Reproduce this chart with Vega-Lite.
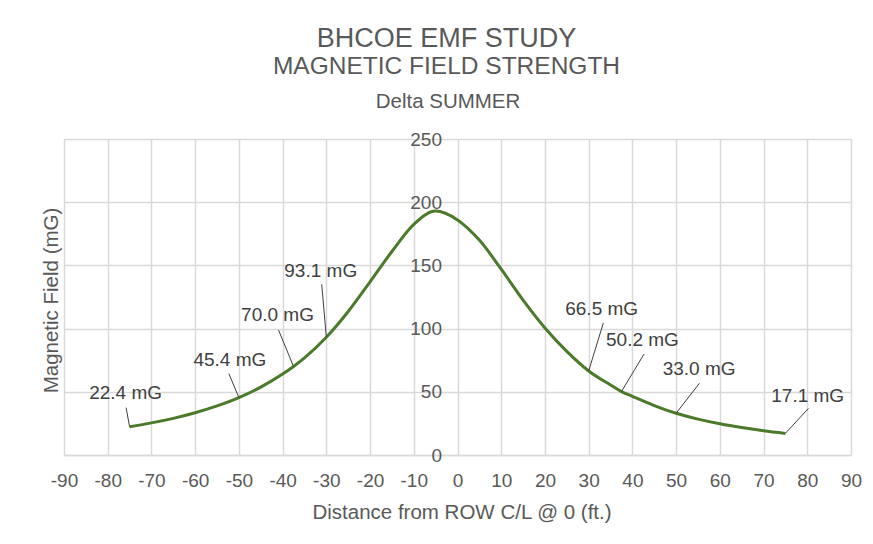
{
  "$schema": "https://vega.github.io/schema/vega-lite/v6.json",
  "width": 787,
  "height": 316,
  "autosize": {"type": "none"},
  "padding": {"left": 64, "top": 139, "right": 22, "bottom": 89},
  "background": "white",
  "config": {"view": {"stroke": null}, "font": "Liberation Sans"},
  "title": {
    "text": "BHCOE EMF STUDY",
    "subtitle": "MAGNETIC FIELD STRENGTH",
    "anchor": "middle",
    "frame": "group",
    "dx": -11,
    "offset": 12,
    "font": "Liberation Sans",
    "fontSize": 27,
    "fontWeight": "normal",
    "color": "#595959",
    "subtitleFont": "Liberation Sans",
    "subtitleFontSize": 24.5,
    "subtitleColor": "#595959",
    "subtitlePadding": 1.5
  },
  "datasets": {
    "curve": [
      {"x": -75, "y": 22.4}, {"x": -70, "y": 25.4}, {"x": -65, "y": 29.0}, {"x": -60, "y": 33.4},
      {"x": -55, "y": 38.8}, {"x": -50, "y": 45.4}, {"x": -45, "y": 53.7}, {"x": -40, "y": 64.0},
      {"x": -37.5, "y": 70.0}, {"x": -35, "y": 76.8}, {"x": -30, "y": 93.1}, {"x": -25, "y": 113.5},
      {"x": -20, "y": 137}, {"x": -15, "y": 161}, {"x": -10, "y": 182.5}, {"x": -5, "y": 193},
      {"x": 0, "y": 186}, {"x": 5, "y": 170}, {"x": 10, "y": 147}, {"x": 15, "y": 122.5},
      {"x": 20, "y": 100.5}, {"x": 25, "y": 82}, {"x": 30, "y": 66.5}, {"x": 35, "y": 55.4},
      {"x": 37.5, "y": 50.2}, {"x": 40, "y": 46.4}, {"x": 45, "y": 39.1}, {"x": 50, "y": 33.0},
      {"x": 55, "y": 28.4}, {"x": 60, "y": 24.7}, {"x": 65, "y": 21.7}, {"x": 70, "y": 19.2},
      {"x": 75, "y": 17.1}
    ],
    "labels": [
      {"x": -75, "y": 22.4, "label": "22.4 mG"},
      {"x": -50, "y": 45.4, "label": "45.4 mG"},
      {"x": -37.5, "y": 70.0, "label": "70.0 mG"},
      {"x": -30, "y": 93.1, "label": "93.1 mG"},
      {"x": 30, "y": 66.5, "label": "66.5 mG"},
      {"x": 37.5, "y": 50.2, "label": "50.2 mG"},
      {"x": 50, "y": 33.0, "label": "33.0 mG"},
      {"x": 75, "y": 17.1, "label": "17.1 mG"}
    ]
  },
  "layer": [
    {
      "data": {"name": "curve"},
      "mark": {"type": "line", "interpolate": "monotone", "color": "#4a7a2a", "strokeWidth": 3},
      "encoding": {
        "x": {
          "field": "x", "type": "quantitative",
          "scale": {"domain": [-90, 90], "nice": false},
          "axis": {
            "orient": "bottom",
            "values": [-90, -80, -70, -60, -50, -40, -30, -20, -10, 0, 10, 20, 30, 40, 50, 60, 70, 80, 90],
            "labelExpr": "'' + datum.value",
            "grid": true, "gridColor": "#d9d9d9", "gridWidth": 1.5,
            "domain": true, "domainColor": "#d9d9d9", "domainWidth": 1.5,
            "ticks": false, "tickSize": 0,
            "labelPadding": 16, "labelFontSize": 19, "labelColor": "#595959",
            "labelFlush": false, "labelOverlap": false,
            "title": "Distance from ROW C/L @ 0 (ft.)",
            "titleFontSize": 20.5, "titleFontWeight": "normal", "titleColor": "#595959",
            "titleX": 397.5, "titleY": 63, "titleBaseline": "alphabetic", "titleAlign": "center"
          }
        },
        "y": {
          "field": "y", "type": "quantitative",
          "scale": {"domain": [0, 250], "nice": false},
          "axis": {
            "orient": "left",
            "values": [0, 50, 100, 150, 200, 250],
            "grid": true, "gridColor": "#d9d9d9", "gridWidth": 1.5,
            "labels": false, "ticks": false, "domain": false, "title": null
          }
        }
      }
    },
    {
      "data": {"name": "labels"},
      "mark": {"type": "point", "opacity": 0},
      "encoding": {
        "x": {
          "field": "x", "type": "quantitative",
          "scale": {"domain": [-90, 90], "nice": false},
          "axis": {
            "orient": "top", "labels": false, "ticks": false, "domain": false, "grid": false,
            "title": "Delta SUMMER",
            "titleFontSize": 20.5, "titleFontWeight": "normal", "titleColor": "#595959",
            "titleX": 383.5, "titleY": -32, "titleBaseline": "alphabetic", "titleAlign": "center"
          }
        },
        "y": {
          "field": "y", "type": "quantitative",
          "scale": {"domain": [0, 250], "nice": false},
          "axis": {
            "orient": "left", "offset": -393.5,
            "values": [0, 50, 100, 150, 200, 250],
            "grid": false, "domain": false, "ticks": false, "tickSize": 0,
            "labelPadding": 16, "labelFontSize": 19, "labelColor": "#595959",
            "title": "Magnetic Field (mG)",
            "titleFontSize": 20.5, "titleFontWeight": "normal", "titleColor": "#595959",
            "titleX": -406.5, "titleY": 161, "titleAngle": -90,
            "titleAlign": "center", "titleBaseline": "middle"
          }
        }
      }
    },
    {
      "data": {"name": "labels"},
      "transform": [{"filter": "datum.x == -75"}],
      "layer": [
        {"mark": {"type": "rule", "color": "#404040", "strokeWidth": 1, "x2Offset": -3.5, "y2Offset": -19},
         "encoding": {"x": {"field": "x", "type": "quantitative", "axis": null}, "y": {"field": "y", "type": "quantitative", "axis": null}, "x2": {"field": "x"}, "y2": {"field": "y"}}},
        {"mark": {"type": "text", "dx": -4, "dy": -34, "fontSize": 19, "color": "#404040"},
         "encoding": {"x": {"field": "x", "type": "quantitative", "axis": null}, "y": {"field": "y", "type": "quantitative", "axis": null}, "text": {"field": "label"}}}
      ]
    },
    {
      "data": {"name": "labels"},
      "transform": [{"filter": "datum.x == -50"}],
      "layer": [
        {"mark": {"type": "rule", "color": "#404040", "strokeWidth": 1, "x2Offset": -10, "y2Offset": -24},
         "encoding": {"x": {"field": "x", "type": "quantitative", "axis": null}, "y": {"field": "y", "type": "quantitative", "axis": null}, "x2": {"field": "x"}, "y2": {"field": "y"}}},
        {"mark": {"type": "text", "dx": -9, "dy": -38, "fontSize": 19, "color": "#404040"},
         "encoding": {"x": {"field": "x", "type": "quantitative", "axis": null}, "y": {"field": "y", "type": "quantitative", "axis": null}, "text": {"field": "label"}}}
      ]
    },
    {
      "data": {"name": "labels"},
      "transform": [{"filter": "datum.x == -37.5"}],
      "layer": [
        {"mark": {"type": "rule", "color": "#404040", "strokeWidth": 1, "x2Offset": -15, "y2Offset": -36.5},
         "encoding": {"x": {"field": "x", "type": "quantitative", "axis": null}, "y": {"field": "y", "type": "quantitative", "axis": null}, "x2": {"field": "x"}, "y2": {"field": "y"}}},
        {"mark": {"type": "text", "dx": -16, "dy": -52, "fontSize": 19, "color": "#404040"},
         "encoding": {"x": {"field": "x", "type": "quantitative", "axis": null}, "y": {"field": "y", "type": "quantitative", "axis": null}, "text": {"field": "label"}}}
      ]
    },
    {
      "data": {"name": "labels"},
      "transform": [{"filter": "datum.x == -30"}],
      "layer": [
        {"mark": {"type": "rule", "color": "#404040", "strokeWidth": 1, "x2Offset": -4.6, "y2Offset": -53},
         "encoding": {"x": {"field": "x", "type": "quantitative", "axis": null}, "y": {"field": "y", "type": "quantitative", "axis": null}, "x2": {"field": "x"}, "y2": {"field": "y"}}},
        {"mark": {"type": "text", "dx": -5.6, "dy": -66, "fontSize": 19, "color": "#404040"},
         "encoding": {"x": {"field": "x", "type": "quantitative", "axis": null}, "y": {"field": "y", "type": "quantitative", "axis": null}, "text": {"field": "label"}}}
      ]
    },
    {
      "data": {"name": "labels"},
      "transform": [{"filter": "datum.x == 30"}],
      "layer": [
        {"mark": {"type": "rule", "color": "#404040", "strokeWidth": 1, "x2Offset": 14.7, "y2Offset": -48},
         "encoding": {"x": {"field": "x", "type": "quantitative", "axis": null}, "y": {"field": "y", "type": "quantitative", "axis": null}, "x2": {"field": "x"}, "y2": {"field": "y"}}},
        {"mark": {"type": "text", "dx": 13, "dy": -62, "fontSize": 19, "color": "#404040"},
         "encoding": {"x": {"field": "x", "type": "quantitative", "axis": null}, "y": {"field": "y", "type": "quantitative", "axis": null}, "text": {"field": "label"}}}
      ]
    },
    {
      "data": {"name": "labels"},
      "transform": [{"filter": "datum.x == 37.5"}],
      "layer": [
        {"mark": {"type": "rule", "color": "#404040", "strokeWidth": 1, "x2Offset": 22.6, "y2Offset": -37.5},
         "encoding": {"x": {"field": "x", "type": "quantitative", "axis": null}, "y": {"field": "y", "type": "quantitative", "axis": null}, "x2": {"field": "x"}, "y2": {"field": "y"}}},
        {"mark": {"type": "text", "dx": 21, "dy": -51.5, "fontSize": 19, "color": "#404040"},
         "encoding": {"x": {"field": "x", "type": "quantitative", "axis": null}, "y": {"field": "y", "type": "quantitative", "axis": null}, "text": {"field": "label"}}}
      ]
    },
    {
      "data": {"name": "labels"},
      "transform": [{"filter": "datum.x == 50"}],
      "layer": [
        {"mark": {"type": "rule", "color": "#404040", "strokeWidth": 1, "x2Offset": 23.3, "y2Offset": -30},
         "encoding": {"x": {"field": "x", "type": "quantitative", "axis": null}, "y": {"field": "y", "type": "quantitative", "axis": null}, "x2": {"field": "x"}, "y2": {"field": "y"}}},
        {"mark": {"type": "text", "dx": 23, "dy": -44, "fontSize": 19, "color": "#404040"},
         "encoding": {"x": {"field": "x", "type": "quantitative", "axis": null}, "y": {"field": "y", "type": "quantitative", "axis": null}, "text": {"field": "label"}}}
      ]
    },
    {
      "data": {"name": "labels"},
      "transform": [{"filter": "datum.x == 75"}],
      "layer": [
        {"mark": {"type": "rule", "color": "#404040", "strokeWidth": 1, "x2Offset": 23, "y2Offset": -25},
         "encoding": {"x": {"field": "x", "type": "quantitative", "axis": null}, "y": {"field": "y", "type": "quantitative", "axis": null}, "x2": {"field": "x"}, "y2": {"field": "y"}}},
        {"mark": {"type": "text", "dx": 22.3, "dy": -37.7, "fontSize": 19, "color": "#404040"},
         "encoding": {"x": {"field": "x", "type": "quantitative", "axis": null}, "y": {"field": "y", "type": "quantitative", "axis": null}, "text": {"field": "label"}}}
      ]
    }
  ],
  "resolve": {"axis": {"x": "independent", "y": "independent"}}
}
